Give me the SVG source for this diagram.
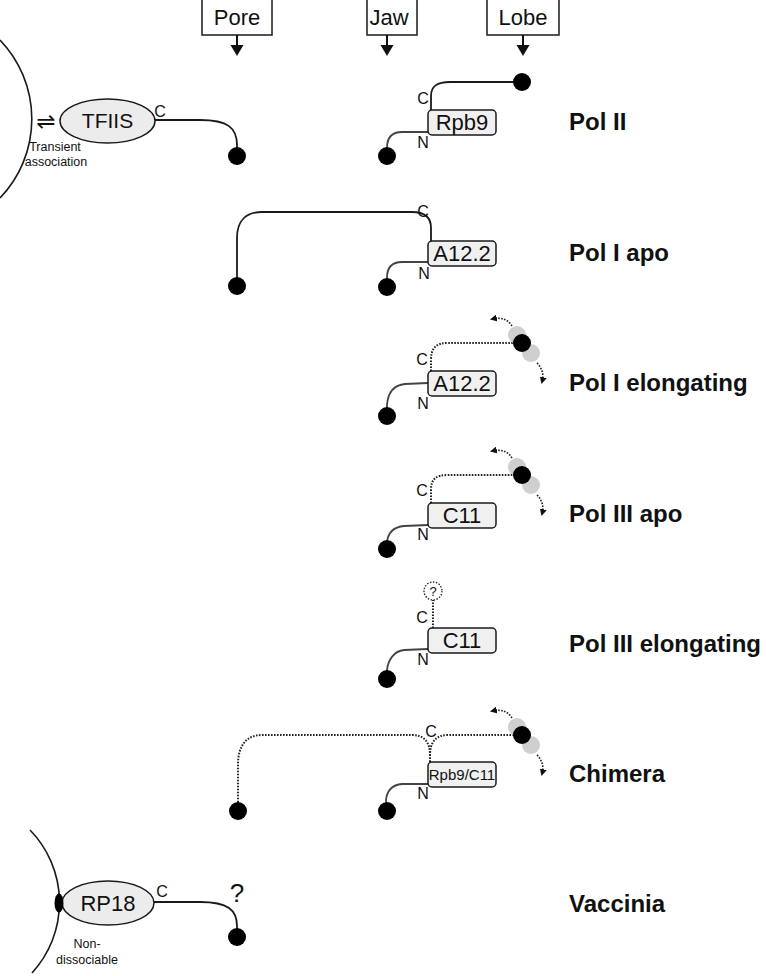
<svg xmlns="http://www.w3.org/2000/svg" width="766" height="976" viewBox="0 0 766 976">
<style>
text{font-family:"Liberation Sans",Arial,sans-serif;fill:#111}
.hdr{font-size:22px;text-anchor:middle}
.lbl{font-size:24px;font-weight:bold}
.sm{font-size:16px;text-anchor:middle}
.tiny{font-size:12.5px;text-anchor:middle}
.bx{font-size:22px;text-anchor:middle}
.box{fill:#f0f0f0;stroke:#1a1a1a;stroke-width:1.5}
.hbox{fill:#fff;stroke:#1a1a1a;stroke-width:1.5}
.ell{fill:#ececec;stroke:#1a1a1a;stroke-width:1.5}
.ln{fill:none;stroke:#1a1a1a;stroke-width:1.8}
.nl{fill:none;stroke:#444;stroke-width:1.8}
.dt{fill:none;stroke:#222;stroke-width:2;stroke-dasharray:1.6 1.4}
.da{fill:none;stroke:#222;stroke-width:1.6;stroke-dasharray:1.6 1.4}
.dot{fill:#000}
.gr{fill:#cfcfcf}
</style>
<defs>
<marker id="ah" viewBox="0 0 10 10" refX="7" refY="5" markerWidth="7" markerHeight="7" markerUnits="userSpaceOnUse" orient="auto"><path d="M0,0 L10,5 L0,10 z" fill="#111"/></marker>
<g id="wob">
<circle class="gr" cx="-5" cy="-8" r="9"/>
<circle class="gr" cx="9" cy="10" r="9"/>
<path class="da" d="M-10,-17 Q-16,-27 -30,-24" marker-end="url(#ah)"/>
<path class="da" d="M15,20 Q23,28 20,39" marker-end="url(#ah)"/>
<circle class="dot" cx="0" cy="0" r="9"/>
</g>
</defs>

<!-- headers -->
<g id="hdr-pore">
<rect class="hbox" x="202" y="-1" width="70" height="36"/>
<text class="hdr" x="237" y="25">Pore</text>
<line x1="237" y1="35" x2="237" y2="46" stroke="#111" stroke-width="2"/>
<polygon points="230.5,45 243.5,45 237,56" fill="#111"/>
</g>
<g id="hdr-jaw">
<rect class="hbox" x="367" y="-1" width="50" height="36"/>
<text class="hdr" x="389" y="25">Jaw</text>
<line x1="387" y1="35" x2="387" y2="46" stroke="#111" stroke-width="2"/>
<polygon points="380.5,45 393.5,45 387,56" fill="#111"/>
</g>
<g id="hdr-lobe">
<rect class="hbox" x="487" y="-1" width="72" height="36"/>
<text class="hdr" x="523" y="25">Lobe</text>
<line x1="523" y1="35" x2="523" y2="46" stroke="#111" stroke-width="2"/>
<polygon points="516.5,45 529.5,45 523,56" fill="#111"/>
</g>

<!-- connectors / strands -->
<g id="connectors">
<!-- Pol II -->
<path class="ln" d="M155,120 L200,120 C228,120 237,128 237,145 L237,156"/>
<path class="ln" d="M431,110 L431,96 C431,86 437,82 450,82 L522,82"/>
<path class="nl" d="M428,132 L402,132 C392,132 387,138 387,148 L387,156"/>
<!-- Pol I apo -->
<path class="ln" d="M431,241 L431,228 C431,217 425,212 412,212 L262,212 C246,212 237,221 237,238 L237,286"/>
<path class="nl" d="M428,262 L402,262 C392,262 387,268 387,278 L387,287"/>
<!-- Pol I elongating -->
<path class="dt" d="M431,371 L431,360 C431,348 436,343 448,343 L522,343"/>
<path class="nl" d="M428,383 L405,384 C394,385 388,392 387,405 L387,416"/>
<!-- Pol III apo -->
<path class="dt" d="M431,503 L431,490 C431,479 436,475 448,475 L522,475"/>
<path class="nl" d="M428,525 L404,526 C394,527 388,533 387,542 L387,549"/>
<!-- Pol III elongating -->
<path class="dt" d="M433,628 L433,600"/>
<path class="nl" d="M428,649 L404,650 C394,651 388,660 387,670 L387,679"/>
<!-- Chimera -->
<path class="dt" d="M430,762 L430,755 C430,742 424,735 412,735 L262,735 C246,735 238,746 238,765 L238,810"/>
<path class="dt" d="M430,762 L430,755 C430,742 436,735 448,735 L522,735"/>
<path class="nl" d="M428,784 L402,784 C392,785 387,790 386,800 L387,811"/>
<!-- Vaccinia -->
<path class="ln" d="M154,902 L200,902 C228,902 237,910 237,926 L237,937"/>
</g>

<!-- Pol II row -->
<g id="tfiis">
<path fill="none" stroke="#1a1a1a" stroke-width="1.6" d="M0,40 A114,114 0 0,1 0,198"/>
<text x="46" y="129" style="font-family:'DejaVu Sans',sans-serif;font-size:23px;text-anchor:middle">⇌</text>
<text class="tiny" x="55" y="151">Transient</text>
<text class="tiny" x="56" y="166">association</text>
<ellipse class="ell" cx="107.5" cy="121" rx="47.5" ry="22"/>
<text x="107.5" y="128" style="font-size:21px;text-anchor:middle">TFIIS</text>
<text class="sm" x="160" y="117">C</text>
<circle class="dot" cx="237" cy="156" r="9"/>
</g>
<g id="rpb9">
<rect class="box" x="428" y="110" width="68" height="25" rx="4"/>
<text class="bx" x="462" y="130">Rpb9</text>
<text class="sm" x="423" y="104">C</text>
<text class="sm" x="423" y="148">N</text>
<circle class="dot" cx="522" cy="82" r="9"/>
<circle class="dot" cx="387" cy="156" r="9"/>
</g>
<text id="lbl-pol2" class="lbl" x="569" y="130">Pol II</text>

<!-- Pol I apo -->
<g id="a122-apo">
<rect class="box" x="428" y="241" width="68" height="25" rx="4"/>
<text class="bx" x="462" y="261">A12.2</text>
<text class="sm" x="423" y="217">C</text>
<text class="sm" x="424" y="279">N</text>
<circle class="dot" cx="237" cy="286" r="9"/>
<circle class="dot" cx="387" cy="287" r="9"/>
</g>
<text id="lbl-pol1apo" class="lbl" x="569" y="261">Pol I apo</text>

<!-- Pol I elongating -->
<g id="a122-elong">
<rect class="box" x="428" y="371" width="68" height="25" rx="4"/>
<text class="bx" x="462" y="391">A12.2</text>
<text class="sm" x="422" y="365">C</text>
<text class="sm" x="423" y="409">N</text>
<use href="#wob" x="522" y="343"/>
<circle class="dot" cx="387" cy="416" r="9"/>
</g>
<text id="lbl-pol1el" class="lbl" x="569" y="391">Pol I elongating</text>

<!-- Pol III apo -->
<g id="c11-apo">
<rect class="box" x="428" y="503" width="68" height="25" rx="4"/>
<text class="bx" x="462" y="523">C11</text>
<text class="sm" x="422" y="496">C</text>
<text class="sm" x="423" y="540">N</text>
<use href="#wob" x="522" y="475"/>
<circle class="dot" cx="387" cy="549" r="9"/>
</g>
<text id="lbl-pol3apo" class="lbl" x="569" y="522">Pol III apo</text>

<!-- Pol III elongating -->
<g id="c11-elong">
<rect class="box" x="428" y="628" width="68" height="25" rx="4"/>
<text class="bx" x="462" y="648">C11</text>
<text class="sm" x="422" y="623">C</text>
<text class="sm" x="423" y="665">N</text>
<circle cx="433" cy="591" r="9" fill="#fff" stroke="#222" stroke-width="1.3" stroke-dasharray="1.5 1.5"/>
<text x="433" y="596" style="font-size:13px;text-anchor:middle">?</text>
<circle class="dot" cx="387" cy="679" r="9"/>
</g>
<text id="lbl-pol3el" class="lbl" x="569" y="652">Pol III elongating</text>

<!-- Chimera -->
<g id="chimera">
<rect class="box" x="428" y="762" width="68" height="25" rx="4"/>
<text x="462" y="780" style="font-size:15px;text-anchor:middle">Rpb9/C11</text>
<text class="sm" x="431" y="737">C</text>
<text class="sm" x="423" y="799">N</text>
<use href="#wob" x="522" y="735"/>
<circle class="dot" cx="238" cy="811" r="9"/>
<circle class="dot" cx="387" cy="811" r="9"/>
</g>
<text id="lbl-chim" class="lbl" x="569" y="782">Chimera</text>

<!-- Vaccinia -->
<g id="rp18">
<path fill="none" stroke="#1a1a1a" stroke-width="1.6" d="M30,830 A104,104 0 0,1 32,973"/>
<ellipse class="ell" cx="108" cy="903" rx="46" ry="22"/>
<ellipse cx="59" cy="903" rx="4.5" ry="9.5" fill="#000"/>
<text x="108" y="911" style="font-size:22px;text-anchor:middle">RP18</text>
<text class="sm" x="162" y="897">C</text>
<text class="tiny" x="87" y="948">Non-</text>
<text class="tiny" x="87" y="964">dissociable</text>
<text x="237" y="902" style="font-size:26px;text-anchor:middle">?</text>
<circle class="dot" cx="237" cy="937" r="9"/>
</g>
<text id="lbl-vac" class="lbl" x="569" y="912">Vaccinia</text>
</svg>
